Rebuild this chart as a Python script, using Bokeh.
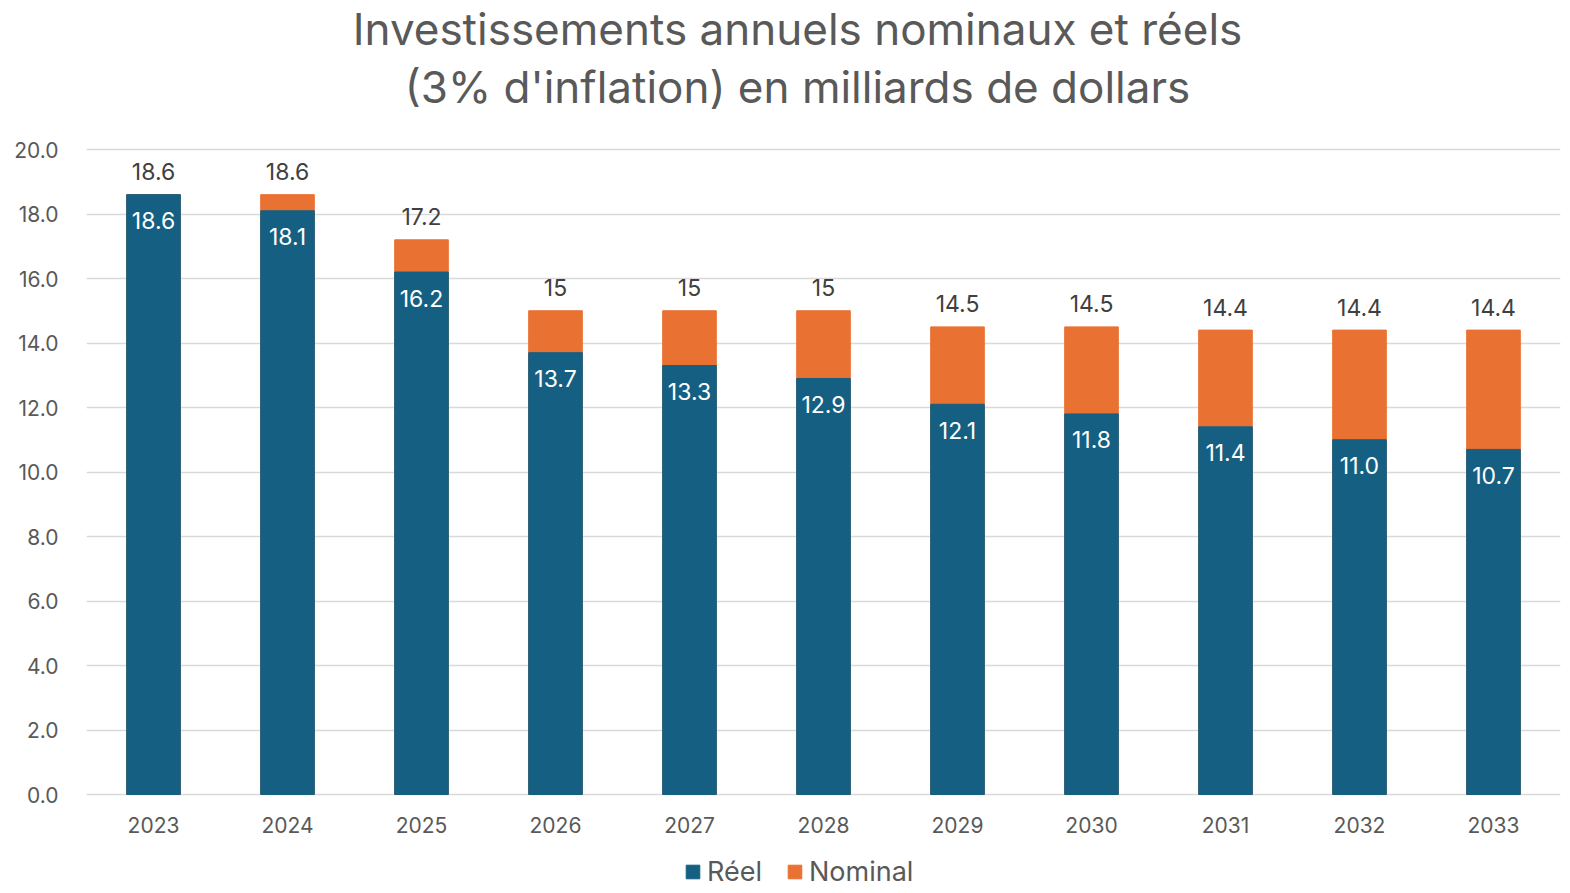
from bokeh.plotting import figure
from bokeh.models import Legend, LegendItem, ColumnDataSource, NumeralTickFormatter, FixedTicker, Range1d
from bokeh.embed import file_html
from bokeh.resources import INLINE

years = ["2023", "2024", "2025", "2026", "2027", "2028", "2029", "2030", "2031", "2032", "2033"]
reel = [18.6, 18.1, 16.2, 13.7, 13.3, 12.9, 12.1, 11.8, 11.4, 11.0, 10.7]
nominal = [18.6, 18.6, 17.2, 15, 15, 15, 14.5, 14.5, 14.4, 14.4, 14.4]
nominal_labels = ["18.6", "18.6", "17.2", "15", "15", "15", "14.5", "14.5", "14.4", "14.4", "14.4"]
reel_labels = ["%.1f" % v for v in reel]
y_ticks = [0, 2, 4, 6, 8, 10, 12, 14, 16, 18, 20]
title_lines = ["Investissements annuels nominaux et réels", "(3% d'inflation) en milliards de dollars"]

FONT = "Inter"
BLUE = "#156082"
ORANGE = "#E97132"
GRAY = "#595959"

src = ColumnDataSource(dict(years=years, reel=reel, nominal=nominal,
                            nlab=nominal_labels, rlab=reel_labels, zero=[0] * len(years)))

W, H = 1566, 890
TOP, ZERO = 149, 794          # pixel rows of 20.0 and 0.0
px_per_unit = (ZERO - TOP) / 20.0
y_start = -(H - ZERO) / px_per_unit   # frame extends under the axis (labels, legend)
y_end = 20 + TOP / px_per_unit       # and above it (title)

p = figure(x_range=years, y_range=Range1d(y_start, y_end), width=W, height=H,
           output_backend="svg", toolbar_location=None,
           min_border_left=86, min_border_right=W - 1560, min_border_top=0, min_border_bottom=0)
p.outline_line_color = None

r_nom = p.vbar(x="years", top="nominal", width=0.4, source=src, fill_color=ORANGE, line_color=ORANGE)
r_reel = p.vbar(x="years", top="reel", width=0.4, source=src, fill_color=BLUE, line_color=BLUE)

p.text(x="years", y="nominal", text="nlab", source=src, text_align="center", text_baseline="middle",
       y_offset=-23, text_font_size="23px", text_color="#404040", text_font={"value": FONT})
p.text(x="years", y="reel", text="rlab", source=src, text_align="center", text_baseline="middle",
       y_offset=26, text_font_size="23px", text_color="white", text_font={"value": FONT})
# category labels under the baseline
p.text(x="years", y="zero", text="years", source=src, text_align="center", text_baseline="middle",
       y_offset=30, text_font_size="21px", text_color=GRAY, text_font={"value": FONT})

# two-line centred title, drawn above the 20.0 gridline
mid = years[len(years) // 2]
p.text(x=[mid, mid], y=[y_ticks[-1], y_ticks[-1]], text=title_lines,
       x_offset=-26, y_offset=[-121, -63], text_align="center", text_baseline="middle",
       text_font_size="44px", text_color=GRAY, text_font={"value": FONT})

p.xaxis.visible = False
p.yaxis.ticker = FixedTicker(ticks=y_ticks)
p.yaxis.formatter = NumeralTickFormatter(format="0.0")
ax = p.yaxis[0]
ax.axis_line_color = None
ax.major_tick_line_color = None
ax.minor_tick_line_color = None
ax.major_label_text_font = FONT
ax.major_label_text_font_size = "21px"
ax.major_label_text_color = GRAY
ax.major_label_standoff = 22

p.xgrid.grid_line_color = None
p.ygrid.grid_line_color = "#d9d9d9"
p.ygrid.grid_line_width = 1.5

legend = Legend(items=[LegendItem(label="Réel", renderers=[r_reel]),
                       LegendItem(label="Nominal", renderers=[r_nom])],
                orientation="horizontal", location=(598, 2))
legend.label_text_font = FONT
legend.label_text_font_size = "27px"
legend.label_text_color = GRAY
legend.glyph_width = 17
legend.glyph_height = 17
legend.spacing = 24
legend.label_standoff = 6
legend.border_line_color = None
legend.background_fill_alpha = 0
legend.margin = 0
legend.padding = 0
p.add_layout(legend, "center")

open("out.html", "w").write(file_html(p, INLINE))
